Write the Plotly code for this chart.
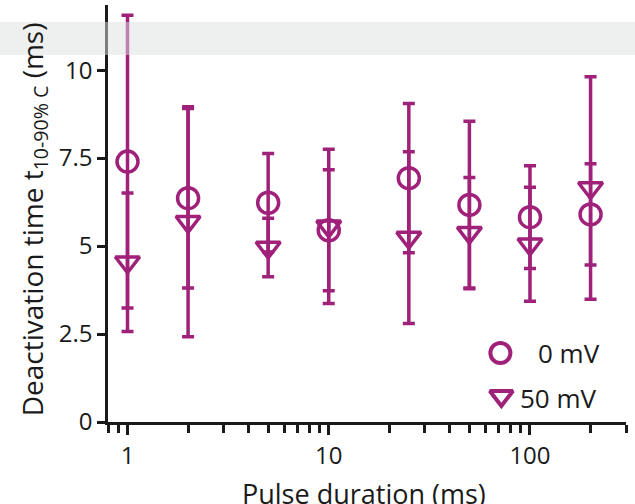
import numpy as np
import plotly.graph_objects as go

# Pulse durations (ms) and deactivation times t(10-90%) (ms), mean ± error
durations = [1, 2, 5, 10, 25, 50, 100, 200]
t_0mV = [7.40, 6.36, 6.23, 5.45, 6.93, 6.17, 5.82, 5.90]
err_0mV = [4.16, 2.55, 1.40, 1.72, 2.12, 2.38, 1.46, 1.44]
t_50mV = [4.54, 5.69, 4.96, 5.56, 5.24, 5.38, 5.05, 6.65]
err_50mV = [1.97, 3.27, 0.83, 2.19, 2.44, 1.57, 1.62, 3.16]

x_ticks = [1, 10, 100]
x_minor = [0.8, 0.9, 2, 3, 4, 5, 6, 7, 8, 9, 20, 30, 40, 50, 60, 70, 80, 90, 200, 300]
y_ticks = [0, 2.5, 5, 7.5, 10]
y_ticktext = ["0", "2.5", "5", "7.5", "10"]

MAG = "#A0217A"
INK = "#1a1a1a"
FONT = "Open Sans"

fig = go.Figure()

def series(y, err, symbol, name):
    return go.Scatter(
        x=durations, y=y, mode="markers", name=name, showlegend=False,
        marker=dict(symbol=symbol, size=21, color=MAG, line=dict(width=3.5, color=MAG)),
        error_y=dict(type="data", array=err, visible=True, color=MAG,
                     thickness=3.5, width=6),
        cliponaxis=False,
    )

fig.add_trace(series(t_50mV, err_50mV, "triangle-down-open", "50 mV"))
fig.add_trace(series(t_0mV, err_0mV, "circle-open", "0 mV"))

# Legend key drawn on an overlay axis in plot-fraction units
fig.add_trace(go.Scatter(
    x=[0.7575, 0.7594], y=[0.1655, 0.0624], mode="markers", showlegend=False,
    xaxis="x2", yaxis="y2", hoverinfo="skip",
    marker=dict(symbol=["circle-open", "triangle-down-open"], size=20, color=MAG,
                line=dict(width=4, color=MAG)),
    cliponaxis=False,
))

fig.update_layout(
    width=635, height=504,
    margin=dict(l=108, r=9, t=5, b=82),
    paper_bgcolor="white", plot_bgcolor="white",
    font=dict(family=FONT, size=24, color=INK),
    xaxis=dict(
        type="log", range=[np.log10(0.8), np.log10(300)],
        tickvals=x_ticks, ticktext=[str(v) for v in x_ticks],
        ticks="outside", ticklen=10, tickwidth=2.5, tickcolor=INK,
        showline=True, linewidth=2.5, linecolor=INK,
        showgrid=False, zeroline=False,
        minor=dict(tickvals=x_minor, ticks="outside", ticklen=8,
                   tickwidth=2.5, tickcolor=INK, showgrid=False),
        tickfont=dict(size=24, color=INK),
    ),
    yaxis=dict(
        range=[0, 11.85], tickvals=y_ticks, ticktext=y_ticktext,
        ticks="outside", ticklen=8, tickwidth=2.5, tickcolor=INK,
        showline=True, linewidth=2.5, linecolor=INK,
        showgrid=False, zeroline=False,
        tickfont=dict(size=24, color=INK),
    ),
    xaxis2=dict(domain=[0, 1], range=[0, 1], visible=False,
                overlaying="x", anchor="y2"),
    yaxis2=dict(domain=[0, 1], range=[0, 1], visible=False,
                overlaying="y", anchor="x2"),
    annotations=[
        dict(text="Pulse duration (ms)", xref="paper", yref="paper",
             x=0.495, y=-0.172, xanchor="center", yanchor="middle",
             showarrow=False, font=dict(size=27, color=INK)),
        dict(text="Deactivation time t<sub>10-90% C</sub> (ms)",
             xref="paper", yref="paper", x=-0.143, y=0.486,
             xanchor="center", yanchor="middle", textangle=-90,
             showarrow=False, font=dict(size=28, color=INK)),
        dict(text="0 mV", xref="paper", yref="paper",
             x=(536 - 108) / 517.5, y=0.165, xanchor="left", yanchor="middle",
             showarrow=False, font=dict(size=26, color=INK)),
        dict(text="50 mV", xref="paper", yref="paper",
             x=(518 - 108) / 517.5, y=0.058, xanchor="left", yanchor="middle",
             showarrow=False, font=dict(size=26, color=INK)),
    ],
    shapes=[
        dict(type="rect", xref="paper", yref="paper",
             x0=-0.21, x1=1.02, y0=0.880, y1=0.959,
             fillcolor="rgb(222,226,226)", opacity=0.5,
             line=dict(width=0), layer="above"),
    ],
)

fig.write_html("out.html")
